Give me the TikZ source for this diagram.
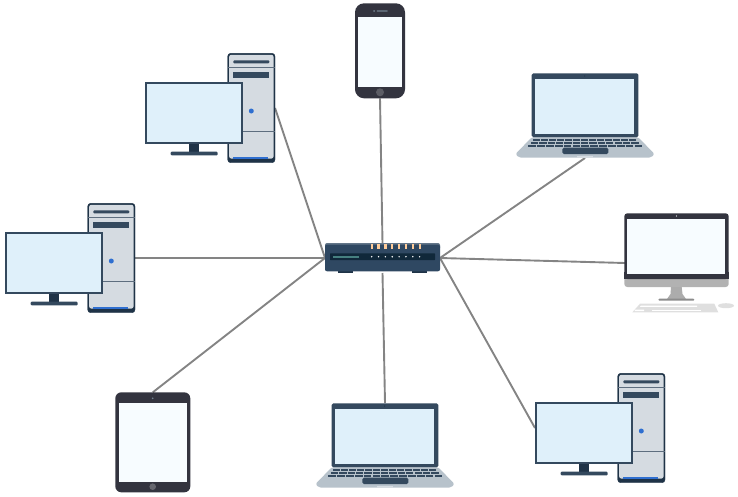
\documentclass[tikz,border=0pt]{standalone}
\usepackage{xcolor}
\usetikzlibrary{positioning, backgrounds}
\definecolor{linkgray}{HTML}{848484}
\definecolor{navy}{HTML}{1F3347}
\definecolor{slate}{HTML}{34495E}
\definecolor{towerfill}{HTML}{D5DBE1}
\definecolor{screenblue}{HTML}{DFF0FA}
\definecolor{screenwhite}{HTML}{F7FCFF}
\definecolor{ledblue}{HTML}{2F6FD0}
\definecolor{deckgray}{HTML}{B7C2CB}
\definecolor{phonedark}{HTML}{33343F}
\definecolor{hubblue}{HTML}{2F4862}
\definecolor{hubpanel}{HTML}{10283A}
\tikzset{
    devbox/.style={inner sep=0pt, outer sep=0pt, minimum width=#1},
    link/.style={linkgray, line width=1.9pt},
    towerpc/.pic={
        % tower
        \filldraw[navy, rounded corners=3pt] (82.7,0.3) rectangle (130,109.7);
        \fill[towerfill, rounded corners=2pt] (84.2,1.8) rectangle (128.5,105.5);
        \draw[slate!80, line width=1pt] (83,14.3) -- (130,14.3);
        \draw[slate!80, line width=1pt] (83,78.3) -- (130,78.3);
        \fill[slate, rounded corners=1pt] (88.3,7.3) rectangle (124.3,10.3);
        \fill[slate] (88.3,18.7) rectangle (124.3,24.7);
        \fill[ledblue] (106.3,58) circle (2.5pt);
        \fill[ledblue] (88.3,103.8) rectangle (123,105.5);
        % monitor
        \fill[navy] (44,90) rectangle (54.3,99.3);
        \fill[slate, rounded corners=1pt] (25.7,98.7) rectangle (72.7,102.3);
        \filldraw[fill=screenblue, draw=slate, line width=1.7pt] (0.8,29.7) rectangle (97.2,90.2);
        \node[devbox=130pt, minimum height=110pt] (-box) at (65,55) {};
    },
    laptop/.pic={
        % deck
        \fill[deckgray, rounded corners=2pt] (17,64) -- (123,64) -- (139.5,81) -- (136,84.7) -- (4,84.7) -- (0.5,81) -- cycle;
        \fill[towerfill] (62,83) rectangle (78,84.7);
        % lid
        \fill[slate, rounded corners=1.5pt] (16.7,0.3) rectangle (123.3,64.2);
        \fill[screenblue] (19.7,6.3) rectangle (119.3,61);
        \fill[navy] (69.7,3) circle (0.7pt);
        % keys
        \foreach \k in {0,...,12} {
            \fill[slate] (18.3+\k*8,65.6) rectangle (25.3+\k*8,68.1);
            \fill[slate] (16+\k*8.35,68.6) rectangle (23.3+\k*8.35,71);
            \fill[slate] (13.3+\k*8.85,71.5) rectangle (21+\k*8.85,73.9);
        }
        \fill[slate, rounded corners=1.5pt] (47.3,74.7) rectangle (93.3,81);
        \node[devbox=140pt, minimum height=85pt] (-box) at (70,42.5) {};
    },
}
\begin{document}
\begin{tikzpicture}[x=1pt, y=-1pt]
\useasboundingbox (0,0) rectangle (738,496);
% switch in the middle
\node[devbox=115pt, minimum height=30pt] (hub) at (382.5,258) {};
\fill[navy] (338.3,270) rectangle (353.3,273);
\fill[navy] (411.7,270) rectangle (426.7,273);
\fill[hubblue!75!white, rounded corners=2pt] (325,243) rectangle (440,250);
\fill[hubblue, rounded corners=2pt] (325,244.5) rectangle (440,271.3);
\fill[hubpanel, rounded corners=0.5pt] (330,253.3) rectangle (435,260);
\fill[teal!45!gray] (332.7,255.8) rectangle (359,257.6);
\foreach \i in {0,...,7} {
    \fill[orange!40!white] (370.6+\i*6.85,243.8) rectangle (372.9+\i*6.85,249);
    \fill[white] (371.7+\i*6.85,256.7) circle (0.8pt);
}
% the three desktop towers
\pic (pca) at (145,53) {towerpc};
\pic (pcb) at (5,203) {towerpc};
\pic (pcc) at (535,373) {towerpc};
% laptops
\pic (lapa) at (515,73) {laptop};
\pic (lapb) at (315,403) {laptop};
% phone
\node[devbox=50pt, minimum height=95pt] (phone) at (380,50.8) {};
\fill[phonedark, rounded corners=9pt] (355,3.3) rectangle (405,98.3);
\fill[screenwhite] (358.3,16.7) rectangle (402,86.7);
\fill[slate!70] (374,11) circle (1pt);
\fill[slate!70, rounded corners=0.5pt] (376.7,10.4) rectangle (387.7,11.6);
\fill[phonedark!80!white] (380,92.3) circle (4pt);
% tablet
\node[devbox=75pt, minimum height=100pt] (tablet) at (152.8,392.3) [anchor=north] {};
\fill[phonedark, rounded corners=6pt] (115.3,392.3) rectangle (190.3,492.3);
\fill[screenwhite] (119,403.3) rectangle (186.7,481.7);
\fill[slate!70] (152.7,398.3) circle (0.9pt);
\fill[phonedark!75!white] (152.7,486.7) circle (3.3pt);
% all-in-one screen
\node[devbox=104pt, minimum height=100pt] (imac) at (677,263) {};
\fill[gray!60, rounded corners=3pt] (624.3,270) rectangle (728.7,287);
\fill[phonedark, rounded corners=3pt] (624.3,213.3) rectangle (728.7,279);
\fill[phonedark] (624.3,272) rectangle (728.7,279);
\fill[screenwhite] (627.3,219) rectangle (725,274.3);
\fill[white] (676.5,216) circle (0.7pt);
\fill[gray!65] (671,287) -- (681.7,287) -- (682.5,294) -- (686,299) -- (667,299) -- (670.5,294) -- cycle;
\fill[gray!90, rounded corners=1pt] (658.3,298.7) rectangle (694.3,300.7);
\fill[gray!25] (640,303.7) -- (714.3,303.7) -- (718.3,312.3) -- (632.3,312.3) -- cycle;
\fill[white] (641,305.5) -- (697,305.5) -- (697,306.8) -- (640,306.8) -- cycle;
\fill[white] (652,309.5) -- (701,309.5) -- (701,311) -- (652,311) -- cycle;
\fill[white] (635,309.5) -- (644,309.5) -- (644,311) -- (634.5,311) -- cycle;
\fill[gray!25] (726,305.7) ellipse (8pt and 2.5pt);
% connectors go under the devices
\begin{scope}[on background layer]
\draw[link] (pca-box.east) -- (hub.west);
\draw[link] (phone.south) -- (hub.north);
\draw[link] (lapa-box.south) -- (hub.east);
\draw[link] (imac.west) -- (hub.east);
\draw[link] (pcc-box.west) -- (hub.east);
\draw[link] (lapb-box.north) -- (hub.south);
\draw[link] (tablet.north) -- (hub.west);
\draw[link] (pcb-box.east) -- (hub.west);
\end{scope}
\end{tikzpicture}
\end{document}
